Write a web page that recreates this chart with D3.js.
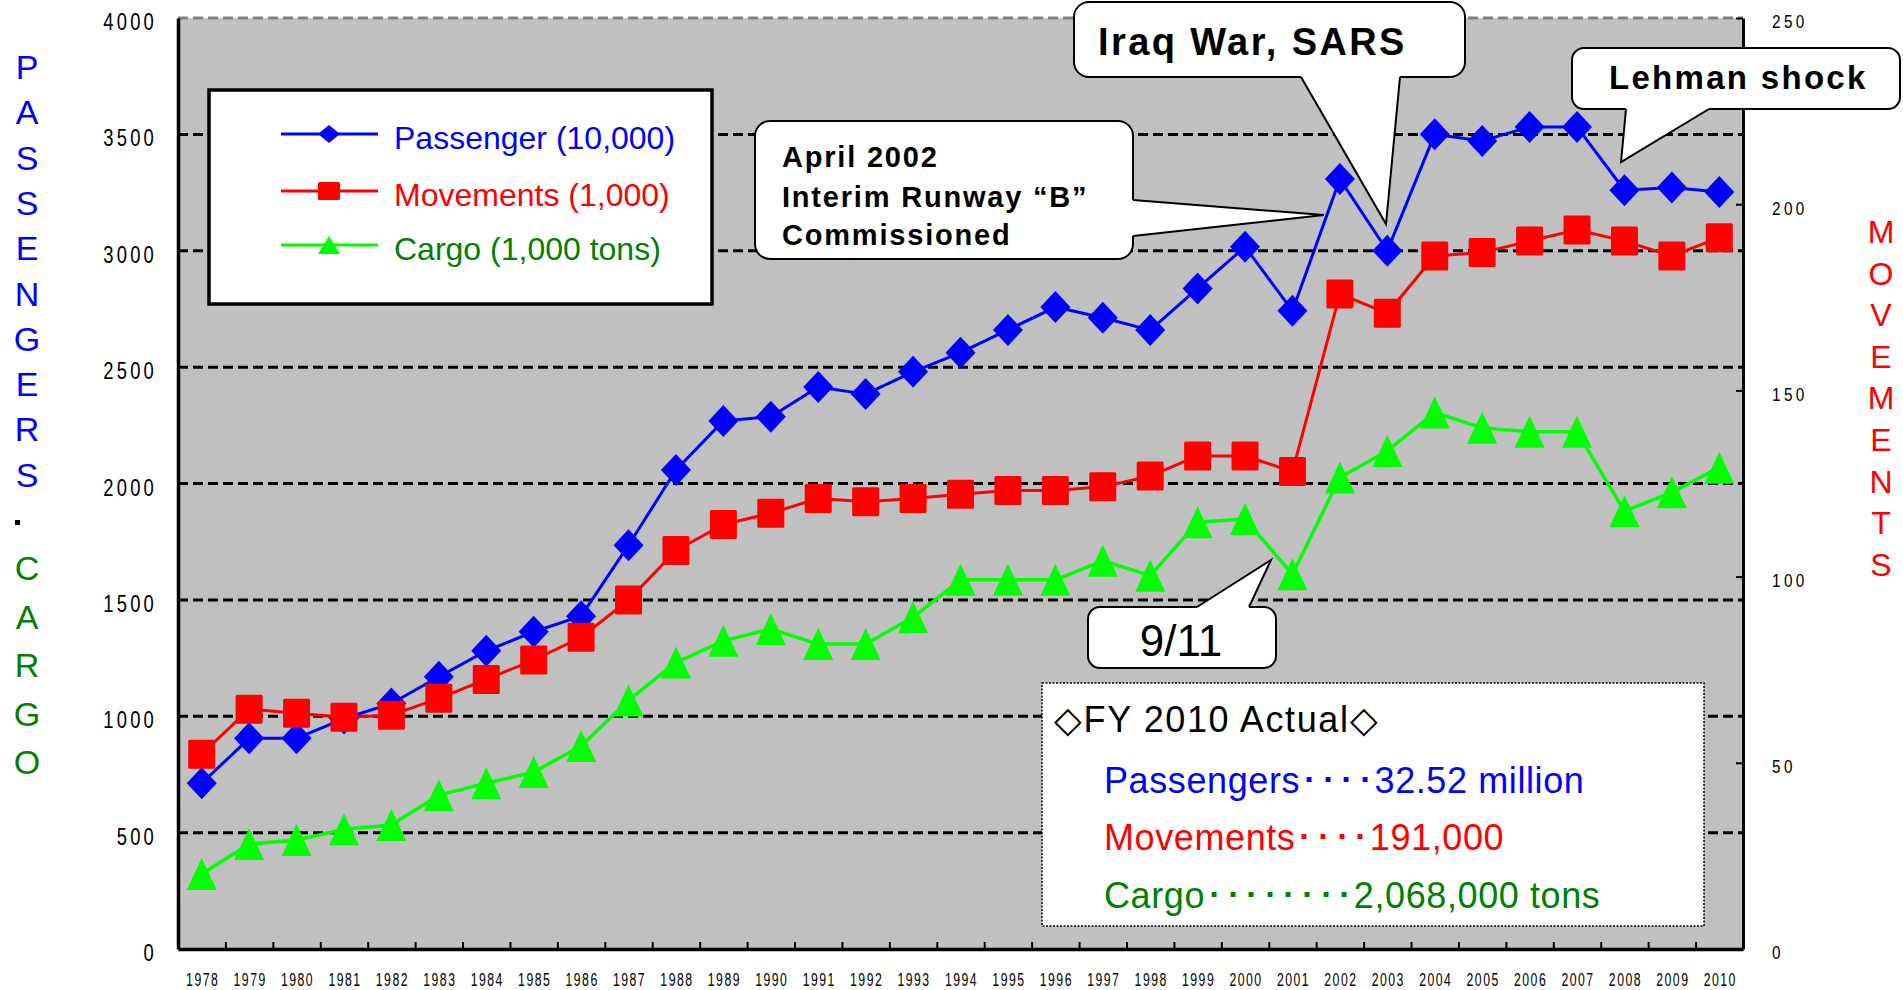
<!DOCTYPE html>
<html><head><meta charset="utf-8">
<script src="https://cdn.jsdelivr.net/npm/d3@7"></script>
<style>
html,body{margin:0;padding:0;background:#fff;}
svg{display:block;}
</style></head><body>
<svg id="c" width="1903" height="990"></svg>
<script>
// ---------------- data ----------------
const years = ["1978","1979","1980","1981","1982","1983","1984","1985","1986","1987","1988",
  "1989","1990","1991","1992","1993","1994","1995","1996","1997","1998","1999","2000",
  "2001","2002","2003","2004","2005","2006","2007","2008","2009","2010"];
// Passengers (10,000)
const passengers = [712, 905, 905, 990, 1055, 1170, 1281, 1363, 1430, 1735, 2058, 2269, 2287,
  2415, 2384, 2480, 2562, 2660, 2758, 2712, 2659, 2838, 3017, 2742, 3308, 3000, 3501, 3472,
  3532, 3532, 3260, 3272, 3252];
// Movements (1,000) - right axis
const movements = [52.3, 64.4, 63.3, 62.2, 62.8, 67.3, 72.4, 77.6, 83.7, 93.7, 107, 114, 117,
  121, 120.1, 121, 122.1, 123.1, 123.1, 124.1, 127, 132.4, 132.4, 128.2, 175.9, 170.7, 186.1,
  187, 190.1, 193.1, 190.1, 186.1, 191];
// Cargo (1,000 tons)
const cargo = [322, 451, 468, 514, 533, 661, 712, 760, 872, 1068, 1231, 1324, 1375, 1310, 1310,
  1425, 1586, 1586, 1586, 1668, 1604, 1833, 1847, 1610, 2026, 2140, 2305, 2239, 2222, 2222,
  1881, 1962, 2068];
const leftTicks = [0, 500, 1000, 1500, 2000, 2500, 3000, 3500, 4000];
const rightTicks = [0, 50, 100, 150, 200, 250];
const seriesNames = ["Passenger (10,000)", "Movements (1,000)", "Cargo (1,000 tons)"];
const leftTitleA = ["P","A","S","S","E","N","G","E","R","S"];
const leftTitleB = ["C","A","R","G","O"];
const rightTitle = ["M","O","V","E","M","E","N","T","S"];
const actualTitle = "◇FY 2010 Actual◇";
const actualRows = ["Passengers････32.52 million", "Movements････191,000", "Cargo････････2,068,000 tons"];
const notes = {
  runway: ["April 2002", "Interim Runway “B”", "Commissioned"],
  iraq: "Iraq War, SARS",
  lehman: "Lehman shock",
  nine: "9/11"
};

// ---------------- layout ----------------
const L = 178, R = 1743, T = 18, B = 949;
const blue = "#0000FF", red = "#FF0000", green = "#00FF00", dgreen = "#008000";
const ft = "'Liberation Sans',Arial,sans-serif";
const svg = d3.select("#c");

const x = d3.scaleBand().domain(years).range([L, R]);
const xb = d3.scaleLinear().domain([0, years.length]).range([L, R]);
const yL = d3.scaleLinear().domain([0, 4000]).range([B, T]);
const yR = d3.scaleLinear().domain([0, 250]).range([B, T]);

// condensed look for tick labels: horizontal squeeze
function squeeze(sel, s) {
  sel.each(function() {
    const t = d3.select(this);
    const xx = +t.attr("x") || 0;
    t.attr("x", xx / s).attr("transform", `scale(${s},1)`);
  });
}

// plot background
svg.append("rect").attr("x", L).attr("y", T).attr("width", R - L).attr("height", B - T).attr("fill", "#C0C0C0");

// grid lines
svg.append("g").selectAll("line").data(leftTicks.filter(d => d > 0)).join("line")
  .attr("x1", L).attr("x2", R).attr("y1", d => yL(d)).attr("y2", d => yL(d))
  .attr("stroke", d => d === 4000 ? "#808080" : "#000")
  .attr("stroke-width", 3).attr("stroke-dasharray", "10,5");

// left axis
const gl = svg.append("g").attr("transform", `translate(${L},0)`)
  .call(d3.axisLeft(yL).tickValues(leftTicks).tickFormat(d3.format("d")).tickSize(0).tickPadding(21).tickSizeOuter(0));
gl.select(".domain").attr("stroke", "#000").attr("stroke-width", 3.5);
gl.selectAll("text").attr("font-family", ft).attr("font-size", 23).attr("letter-spacing", 4)
  .attr("fill", "#000").attr("dy", "0.5em").call(squeeze, 0.8);

// bottom axis: labels
const gb = svg.append("g").attr("transform", `translate(0,${B})`)
  .call(d3.axisBottom(x).tickSize(0).tickPadding(24).tickSizeOuter(0));
gb.select(".domain").remove();
gb.selectAll("text").attr("font-family", ft).attr("font-size", 18).attr("letter-spacing", 2.2).attr("fill", "#000")
  .attr("x", 1).call(squeeze, 0.68);
// bottom axis: boundary ticks (inward)
const gbt = svg.append("g").attr("transform", `translate(0,${B})`)
  .call(d3.axisBottom(xb).tickValues(d3.range(1, years.length)).tickSize(-7).tickFormat("").tickSizeOuter(0));
gbt.select(".domain").attr("stroke", "#000").attr("stroke-width", 3.5);
gbt.selectAll(".tick line").attr("stroke", "#000").attr("stroke-width", 2);

// right axis: inward ticks
const grt = svg.append("g").attr("transform", `translate(${R},0)`)
  .call(d3.axisLeft(yR).tickValues(rightTicks).tickSize(7).tickFormat("").tickSizeOuter(0));
grt.select(".domain").attr("stroke", "#000").attr("stroke-width", 3);
grt.selectAll(".tick line").attr("stroke", "#000").attr("stroke-width", 2);
// right axis labels
const grl = svg.append("g").attr("transform", `translate(${R},0)`)
  .call(d3.axisRight(yR).tickValues(rightTicks).tickFormat(d3.format("d")).tickSize(0).tickPadding(29));
grl.select(".domain").remove();
grl.selectAll("text").attr("font-family", ft).attr("font-size", 18).attr("letter-spacing", 4)
  .attr("fill", "#000").attr("dy", "0.55em").call(squeeze, 0.85);

// axis titles
svg.append("g").selectAll("text").data(leftTitleA).join("text")
  .attr("x", 27).attr("y", (d, i) => 79 + i * 45.3).attr("text-anchor", "middle")
  .attr("font-family", ft).attr("font-size", 34).attr("fill", blue).text(d => d);
svg.append("rect").attr("x", 15).attr("y", 520).attr("width", 5).attr("height", 5).attr("fill", "#000");
svg.append("g").selectAll("text").data(leftTitleB).join("text")
  .attr("x", 27).attr("y", (d, i) => 580 + i * 48.5).attr("text-anchor", "middle")
  .attr("font-family", ft).attr("font-size", 34).attr("fill", dgreen).text(d => d);
svg.append("g").selectAll("text").data(rightTitle).join("text")
  .attr("x", 1881).attr("y", (d, i) => 243 + i * 41.6).attr("text-anchor", "middle")
  .attr("font-family", ft).attr("font-size", 32).attr("fill", red).text(d => d);

// ---------------- callouts & boxes ----------------
function bubble(rx, ry, w, h, r, ptr, inset) {
  const g = svg.append("g");
  g.append("rect").attr("x", rx).attr("y", ry).attr("width", w).attr("height", h)
    .attr("rx", r).attr("ry", r).attr("fill", "#fff").attr("stroke", "#000").attr("stroke-width", 2);
  if (ptr) {
    const [b1, tip, b2] = ptr;
    const fillPts = [[b1[0] + inset[0], b1[1] + inset[1]], b1, tip, b2, [b2[0] + inset[0], b2[1] + inset[1]]];
    g.append("path").attr("d", d3.line()(fillPts) + "Z").attr("fill", "#fff").attr("stroke", "none");
    g.append("path").attr("d", d3.line()([b1, tip, b2])).attr("fill", "none").attr("stroke", "#000").attr("stroke-width", 2);
  }
  return g;
}

// legend box
const lg = svg.append("g");
lg.append("rect").attr("x", 209).attr("y", 90).attr("width", 503).attr("height", 214)
  .attr("fill", "#fff").attr("stroke", "#000").attr("stroke-width", 3.5);

// FY 2010 box
const fy = svg.append("g");
fy.append("rect").attr("x", 1042).attr("y", 683).attr("width", 662).attr("height", 243)
  .attr("fill", "#fff").attr("stroke", "#000").attr("stroke-width", 1.5).attr("stroke-dasharray", "2,1.5");
fy.append("text").attr("x", 1054).attr("y", 732).attr("font-family", ft).attr("font-size", 36)
  .attr("letter-spacing", 1.6).attr("fill", "#000").text(actualTitle);
const rowColors = [blue, red, dgreen];
const rowY = [793, 850, 908];
fy.selectAll("text.row").data(actualRows).join("text").attr("class", "row")
  .attr("x", 1104).attr("y", (d, i) => rowY[i]).attr("font-family", ft).attr("font-size", 36)
  .attr("letter-spacing", 0.6).attr("fill", (d, i) => rowColors[i]).text(d => d);

// callouts
const b1 = bubble(755, 121, 378, 138, 15, [[1133, 200], [1324, 215], [1133, 236]], [-4, 0]);
b1.selectAll("text").data(notes.runway).join("text")
  .attr("x", 782).attr("y", (d, i) => [167, 207, 245][i]).attr("font-family", ft)
  .attr("font-weight", "bold").attr("font-size", 29).attr("letter-spacing", 1.8).attr("fill", "#000").text(d => d);

const b2 = bubble(1074, 2, 391, 75, 15, [[1301, 77], [1386, 224], [1400, 77]], [0, -4]);
b2.append("text").attr("x", 1098).attr("y", 55).attr("font-family", ft).attr("font-weight", "bold")
  .attr("font-size", 38).attr("letter-spacing", 2.4).attr("fill", "#000").text(notes.iraq);

const b3 = bubble(1572, 48, 328, 61, 12, [[1626, 109], [1621, 162], [1709, 109]], [0, -4]);
b3.append("text").attr("x", 1609).attr("y", 89).attr("font-family", ft).attr("font-weight", "bold")
  .attr("font-size", 33).attr("letter-spacing", 2.3).attr("fill", "#000").text(notes.lehman);

const b4 = bubble(1088, 607, 188, 61, 12, [[1197, 607], [1271, 560], [1249, 607]], [0, 4]);
b4.append("text").attr("x", 1181).attr("y", 656).attr("text-anchor", "middle").attr("font-family", ft)
  .attr("font-size", 44).attr("fill", "#000").text(notes.nine);

// ---------------- series ----------------
const cx = d => x(d) + x.bandwidth() / 2;
function diamond(g, px, py, hw, hh, c) {
  g.append("path").attr("d", `M${px},${py - hh}L${px + hw},${py}L${px},${py + hh}L${px - hw},${py}Z`).attr("fill", c);
}
function square(g, px, py, hw, hh, c) {
  g.append("rect").attr("x", px - hw).attr("y", py - hh).attr("width", 2 * hw).attr("height", 2 * hh).attr("rx", 1.5).attr("fill", c);
}
function triangle(g, px, py, hw, hh, c) {
  g.append("path").attr("d", `M${px},${py - hh}L${px + hw},${py + hh}L${px - hw},${py + hh}Z`).attr("fill", c);
}

const series = [
  {vals: passengers, y: yL, color: blue, mark: diamond, w: 3, hw: 15, hh: 16},
  {vals: movements, y: yR, color: red, mark: square, w: 3, hw: 13.5, hh: 14.5},
  {vals: cargo, y: yL, color: green, mark: triangle, w: 3.5, hw: 15, hh: 16}
];
series.forEach(s => {
  const g = svg.append("g");
  const pts = years.map((yr, i) => [cx(yr), s.y(s.vals[i])]);
  g.append("path").attr("d", d3.line()(pts)).attr("fill", "none").attr("stroke", s.color)
    .attr("stroke-width", s.w).attr("stroke-linejoin", "round");
  pts.forEach(p => s.mark(g, p[0], p[1], s.hw, s.hh, s.color));
});

// legend entries
const legY = [134, 191, 245];
const legText = [blue, red, dgreen];
series.forEach((s, i) => {
  lg.append("line").attr("x1", 281).attr("x2", 378).attr("y1", legY[i]).attr("y2", legY[i])
    .attr("stroke", s.color).attr("stroke-width", 3);
  s.mark(lg, 329, legY[i], 11, 9, s.color);
  lg.append("text").attr("x", 394).attr("y", legY[i] + 15).attr("font-family", ft).attr("font-size", 32)
    .attr("fill", legText[i]).text(seriesNames[i]);
});
</script>
</body></html>
